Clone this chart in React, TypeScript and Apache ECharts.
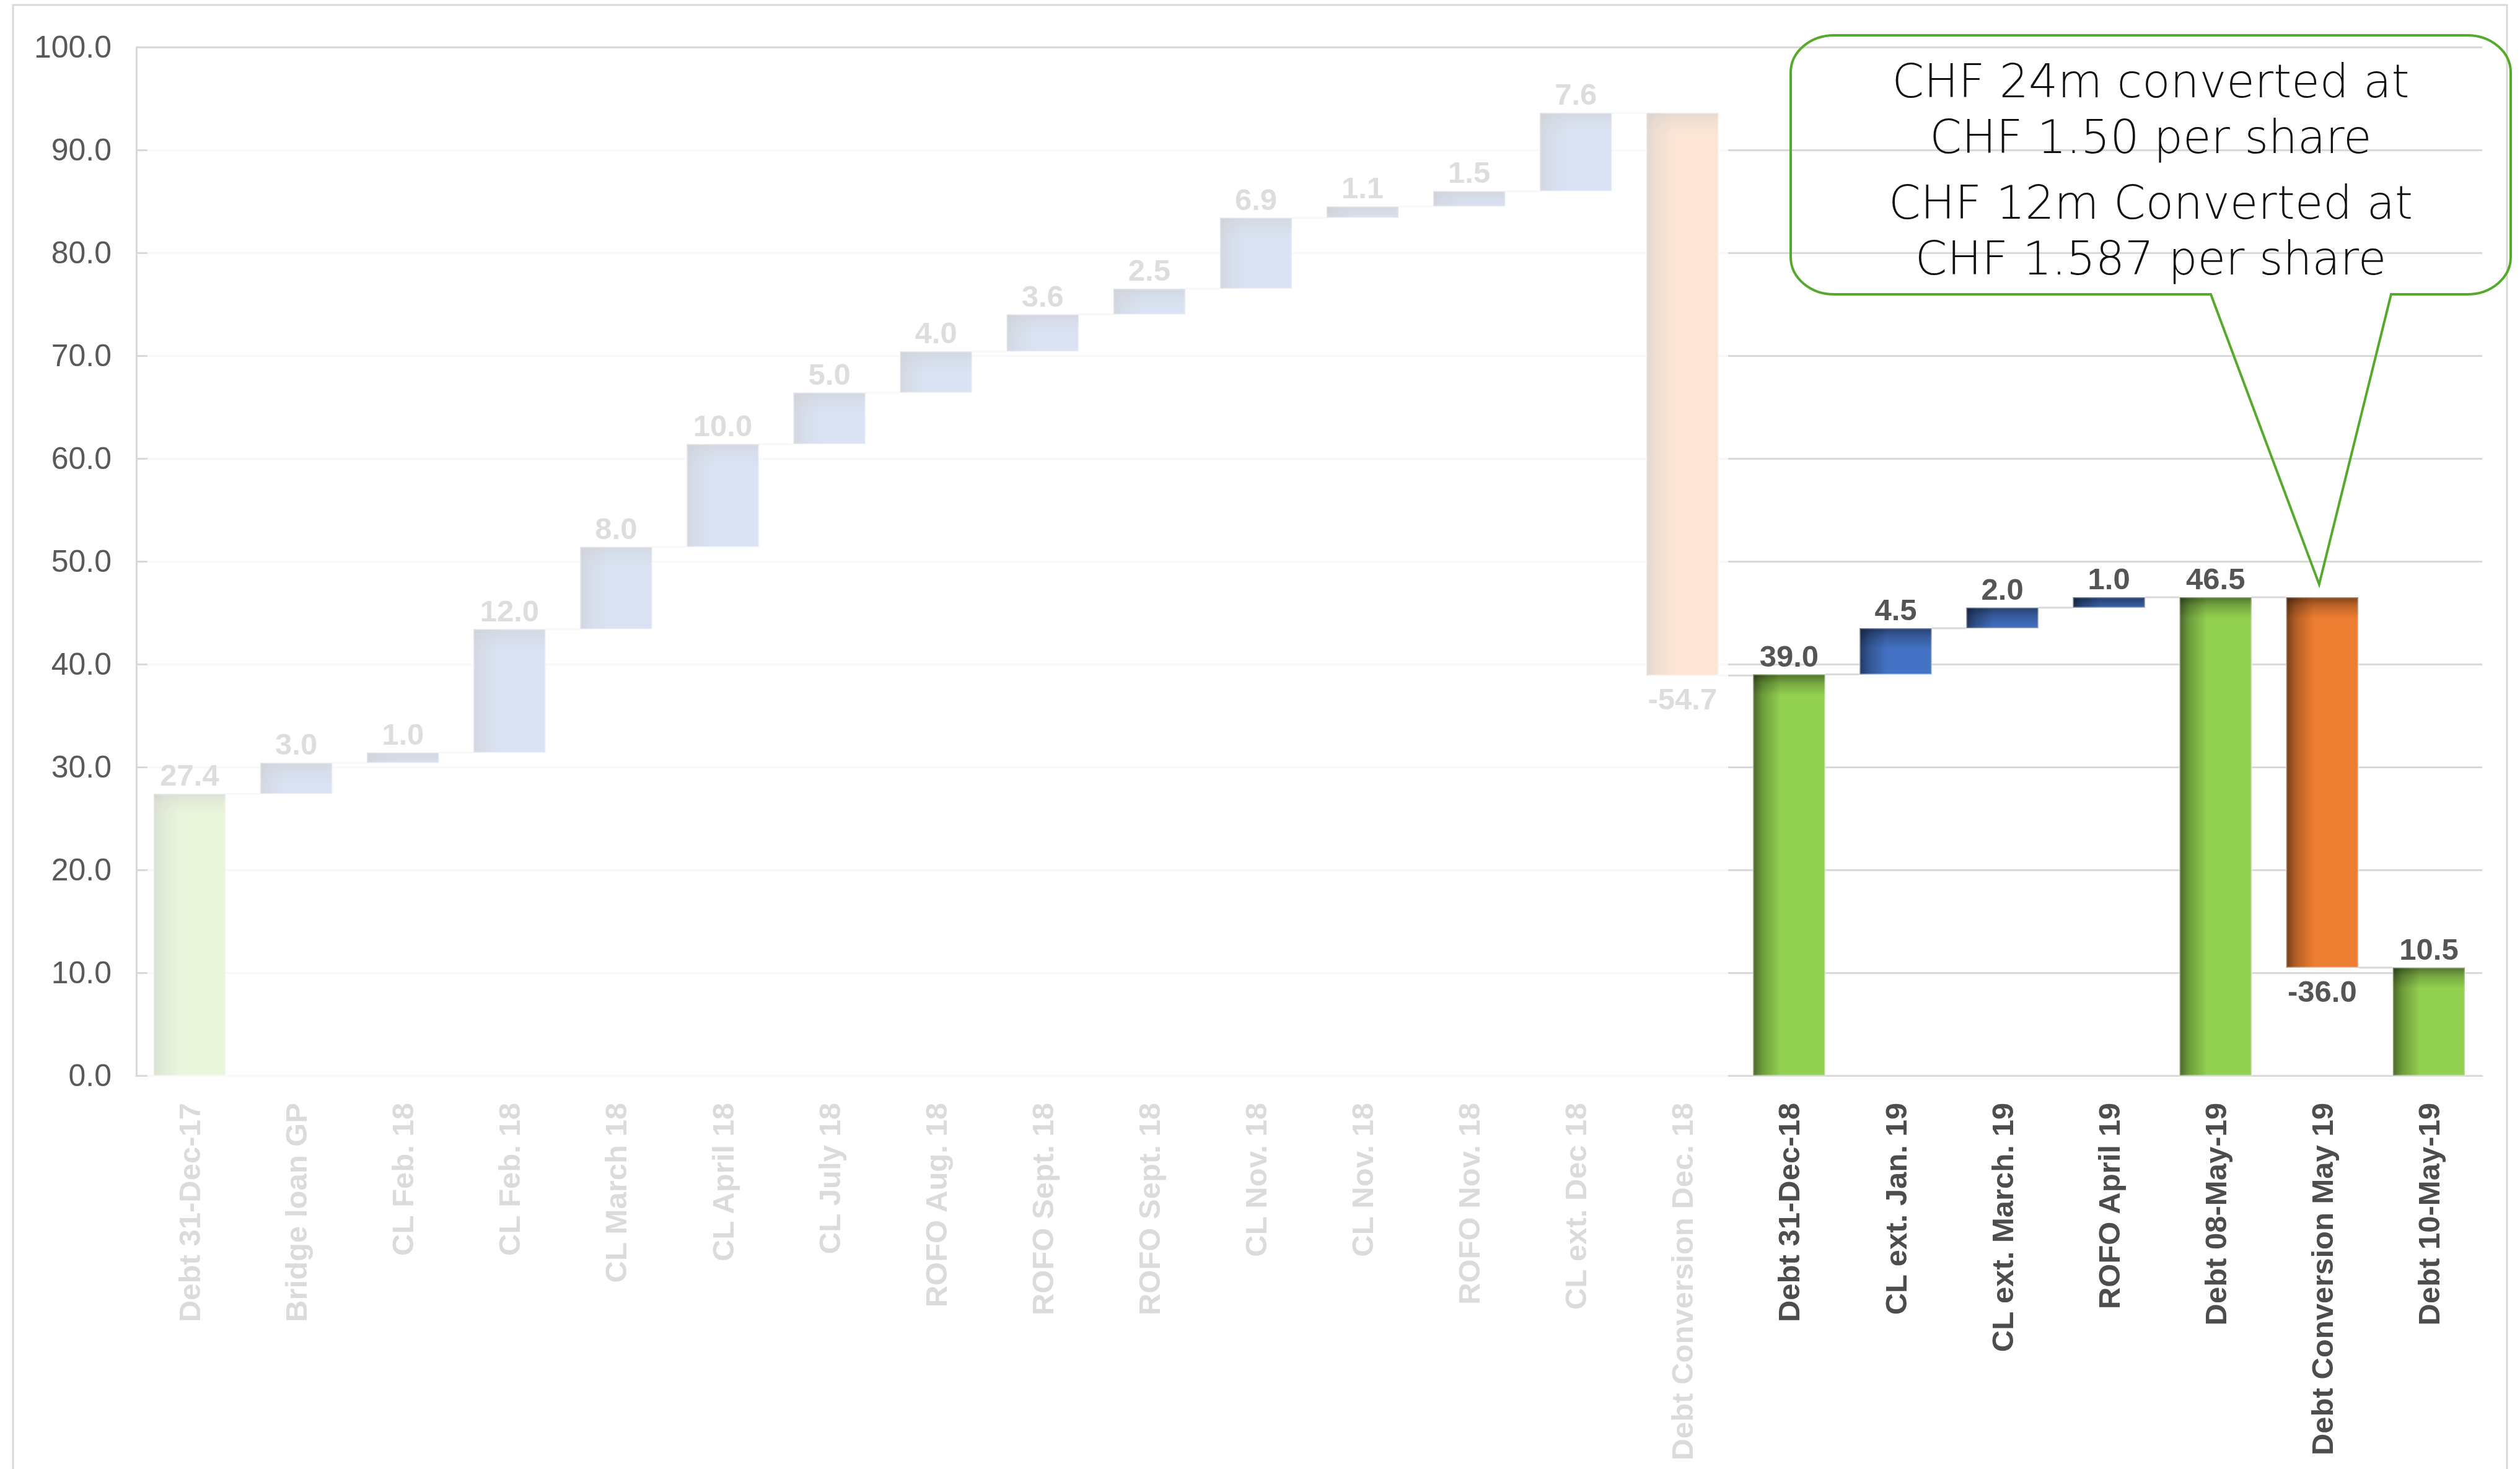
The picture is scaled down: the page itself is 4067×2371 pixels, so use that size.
import React, { useEffect, useRef } from "react";
import * as echarts from "echarts";

// Debt bridge, Dec 2017 -> May 2019 (CHF m)
const categories = [
  "Debt 31-Dec-17",
  "Bridge loan GP",
  "CL Feb. 18",
  "CL Feb. 18",
  "CL March 18",
  "CL April 18",
  "CL July 18",
  "ROFO Aug. 18",
  "ROFO Sept. 18",
  "ROFO Sept. 18",
  "CL Nov. 18",
  "CL Nov. 18",
  "ROFO Nov. 18",
  "CL ext. Dec 18",
  "Debt Conversion Dec. 18",
  "Debt 31-Dec-18",
  "CL ext. Jan. 19",
  "CL ext. March. 19",
  "ROFO April 19",
  "Debt 08-May-19",
  "Debt Conversion May 19",
  "Debt 10-May-19",
];
const amounts = [
  27.4, 3.0, 1.0, 12.0, 8.0, 10.0, 5.0, 4.0, 3.6, 2.5, 6.9, 1.1, 1.5, 7.6, -54.7,
  39.0, 4.5, 2.0, 1.0, 46.5, -36.0, 10.5,
];
// 1 = balance (drawn from zero), 0 = movement
const totalFlags = [1, 0, 0, 0, 0, 0, 0, 0, 0, 0, 0, 0, 0, 0, 0, 1, 0, 0, 0, 1, 0, 1];
const yMin = 0;
const yMax = 100;
const yStep = 10;
const noteLines = [
  "CHF 24m converted at",
  "CHF 1.50 per share",
  "CHF 12m Converted at",
  "CHF 1.587 per share",
];
const noteTarget = 20; // bar the note points at

const COLORS = { total: "#92D050", up: "#4472C4", down: "#ED7D31" };
const BAR_RATIO = 0.675;
const LABEL_FONT = '"Liberation Sans", Arial, sans-serif';

// running start / end for each bar of the waterfall
const segments: number[][] = (() => {
  let run = 0;
  return amounts.map((v, i) => {
    if (totalFlags[i]) {
      run = v;
      return [i, 0, v];
    }
    const s = run;
    run = +(run + v).toFixed(2);
    return [i, s, run];
  });
})();

function renderWaterfall(params: any, api: any) {
  const i = api.value(0);
  const start = api.value(1);
  const end = api.value(2);
  const amt = amounts[i];
  const kind = totalFlags[i] ? "total" : amt >= 0 ? "up" : "down";
  const band = api.size([1, 0])[0];
  const w = band * BAR_RATIO;
  const cx = api.coord([i, 0])[0];
  const yTop = api.coord([i, Math.max(start, end)])[1];
  const yBot = api.coord([i, Math.min(start, end)])[1];
  const yEnd = api.coord([i, end])[1];
  const x = cx - w / 2;
  const h = Math.max(yBot - yTop, 1);
  const base = (COLORS as any)[kind];
  const shadeH = 34;

  const children: any[] = [
    { type: "rect", shape: { x, y: yTop, width: w, height: h }, style: { fill: base } },
    {
      type: "rect",
      shape: { x, y: yTop, width: Math.min(w, 44), height: h },
      style: {
        fill: new echarts.graphic.LinearGradient(x, 0, x + 44, 0, [
          { offset: 0, color: "rgba(0,0,0,0.5)" },
          { offset: 0.35, color: "rgba(0,0,0,0.25)" },
          { offset: 1, color: "rgba(0,0,0,0)" },
        ], true),
      },
    },
    {
      type: "rect",
      shape: { x, y: yTop, width: w, height: Math.min(h, shadeH) },
      style: {
        fill: new echarts.graphic.LinearGradient(0, yTop, 0, yTop + shadeH, [
          { offset: 0, color: "rgba(0,0,0,0.45)" },
          { offset: 0.4, color: "rgba(0,0,0,0.2)" },
          { offset: 1, color: "rgba(0,0,0,0)" },
        ], true),
      },
    },
    {
      type: "rect",
      shape: { x, y: yTop, width: w, height: h },
      style: { fill: "none", stroke: "rgba(255,255,255,0.35)", lineWidth: 3 },
    },
  ];

  if (i < amounts.length - 1) {
    children.push({
      type: "line",
      shape: { x1: x + w, y1: yEnd, x2: cx + band - w / 2, y2: yEnd },
      style: { stroke: "#d9d9d9", lineWidth: 3 },
    });
  }

  children.push({
    type: "text",
    style: {
      text: amt.toFixed(1),
      x: cx,
      y: amt >= 0 ? yTop - 30 : yBot + 38,
      align: "center",
      verticalAlign: "middle",
      fontFamily: LABEL_FONT,
      fontWeight: "bold",
      fontSize: 49,
      fill: "#555555",
    },
  });

  return { type: "group", children };
}

export default function App() {
  const ref = useRef<HTMLDivElement>(null);

  useEffect(() => {
    const chart = echarts.init(ref.current!, null, { renderer: "svg" });
    chart.setOption({
      animation: false,
      backgroundColor: "#ffffff",
      grid: { left: 220, top: 76, width: 3786, height: 1660, containLabel: false },
      xAxis: {
        type: "category",
        data: categories,
        axisLine: { show: true, lineStyle: { color: "#d9d9d9", width: 3 } },
        axisTick: { show: false },
        axisLabel: {
          interval: 0,
          rotate: 90,
          margin: 44,
          fontFamily: LABEL_FONT,
          fontWeight: "bold",
          fontSize: 49,
          color: "#4d4d4d",
        },
      },
      yAxis: {
        type: "value",
        min: yMin,
        max: yMax,
        interval: yStep,
        axisLine: { show: true, lineStyle: { color: "#d9d9d9", width: 3 } },
        axisTick: { show: false },
        splitLine: { show: true, lineStyle: { color: "#d9d9d9", width: 3 } },
        axisLabel: {
          margin: 40,
          fontFamily: LABEL_FONT,
          fontSize: 50,
          color: "#595959",
          formatter: (v: number) => v.toFixed(1),
        },
      },
      series: [
        {
          type: "custom",
          renderItem: renderWaterfall,
          data: segments,
          encode: { x: 0, y: [1, 2] },
          clip: false,
        },
      ],
    });

    // speech-bubble note pointing at the conversion bar
    const tip = chart.convertToPixel({ xAxisIndex: 0, yAxisIndex: 0 }, [
      noteTarget,
      segments[noteTarget][1],
    ]) as number[];
    const tipX = tip[0] - 5;
    const tipY = tip[1] - 21;
    const x0 = 2890, y0 = 57, x1 = 4052, y1 = 475, rx = 70, ry = 60;
    const tL = 3568, tR = 3859;
    const d =
      `M ${x0 + rx} ${y0} L ${x1 - rx} ${y0} A ${rx} ${ry} 0 0 1 ${x1} ${y0 + ry} ` +
      `L ${x1} ${y1 - ry} A ${rx} ${ry} 0 0 1 ${x1 - rx} ${y1} L ${tR} ${y1} L ${tipX} ${tipY} ` +
      `L ${tL} ${y1} L ${x0 + rx} ${y1} A ${rx} ${ry} 0 0 1 ${x0} ${y1 - ry} ` +
      `L ${x0} ${y0 + ry} A ${rx} ${ry} 0 0 1 ${x0 + rx} ${y0} Z`;
    echarts.graphic.registerShape("noteBubble", echarts.graphic.extendPath(d, {}) as any);

    const noteFont = '"DejaVu Sans", "Open Sans", sans-serif';
    const lineY = [131, 221, 327, 417];
    const noteTexts = noteLines.map((t, k) => ({
      type: "text",
      silent: true,
      z: 111,
      style: {
        text: t,
        x: (x0 + x1) / 2,
        y: lineY[k],
        align: "center",
        verticalAlign: "middle",
        fontFamily: noteFont,
        fontWeight: 200,
        fontSize: 74,
        fill: "#111111",
      },
    }));

    chart.setOption({
      graphic: [
        {
          type: "rect",
          silent: true,
          z: 1,
          shape: { x: 21, y: 8, width: 4025, height: 2420 },
          style: { fill: "none", stroke: "#d9d9d9", lineWidth: 3 },
        },
        {
          // wash over the 2018 history so the 2019 steps stand out
          type: "rect",
          silent: true,
          z: 100,
          shape: { x: 238, y: 79, width: 2789 - 238, height: 2371 - 79 },
          style: { fill: "rgba(255,255,255,0.8)" },
        },
        {
          type: "noteBubble",
          silent: true,
          z: 110,
          x: 0,
          y: 0,
          style: { fill: "none", stroke: "#55AA2B", lineWidth: 4 },
        },
        ...noteTexts,
      ],
    });

    return () => chart.dispose();
  }, []);

  return (
    <div
      ref={ref}
      style={{ position: "absolute", left: 0, top: 0, width: 4067, height: 2371, background: "#ffffff" }}
    />
  );
}
